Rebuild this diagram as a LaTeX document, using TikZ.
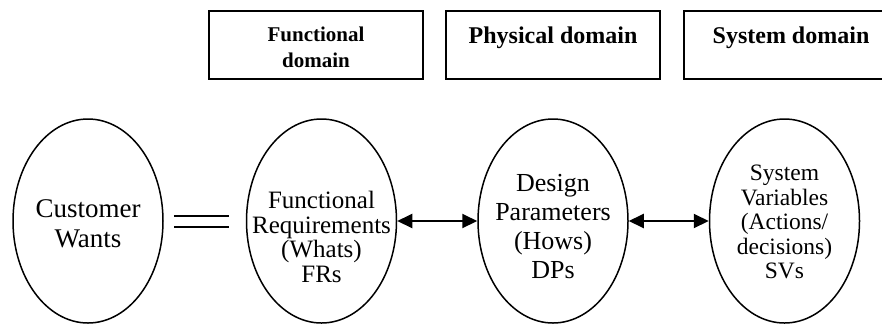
\documentclass[tikz,border=0pt]{standalone}
\usepackage{fontspec}
\setmainfont{Liberation Serif}
\usetikzlibrary{positioning,shapes.geometric,arrows.meta}

\begin{document}
\begin{tikzpicture}[x=1pt,y=1pt,
    domainbox/.style={draw, line width=2pt, minimum width=214pt, minimum height=68pt, inner sep=0pt},
    domaintext/.style={font=\bfseries\fontsize{24}{26}\selectfont, align=center, inner sep=0pt},
    bubble/.style={ellipse, draw, line width=1.5pt, minimum width=150pt, minimum height=204pt, inner sep=0pt},
    bubbletext/.style={align=center, inner sep=0pt, font=\fontsize{25}{24.7}\selectfont},
    biarrow/.style={line width=2pt, {Triangle[length=15pt,width=14pt]}-{Triangle[length=15pt,width=14pt]}},
    equals/.style={double, line width=2pt, double distance=9pt, shorten <=10pt, shorten >=17pt}]
    \useasboundingbox (0,0) rectangle (882,-325);
    \clip (0,0) rectangle (882,-325);
    % domains
    \node[domainbox]                    (fdom) at (316,-45) {};
    \node[domainbox, right=21pt of fdom] (pdom) {};
    \node[domainbox, right=22pt of pdom] (sdom) {};
    \node[domaintext, font=\bfseries\fontsize{21}{26}\selectfont, below=16.5pt of fdom.north] (ftext) {Functional\\domain};
    \node[domaintext, below=16.5pt of pdom.north] (ptext) {Physical domain};
    \node[domaintext, below=16.5pt of sdom.north] (stext) {System domain};
    % mappings
    \node[bubble]                  (cw) at (88,-221) {};
    \node[bubble, right=82pt of cw] (fr) {};
    \node[bubble, right=80pt of fr] (dp) {};
    \node[bubble, right=80pt of dp] (sv) {};
    \node[bubbletext, font=\fontsize{27}{30}\selectfont, yshift=-3pt] (cwtext) at (cw) {Customer\\Wants};
    \node[bubbletext, yshift=-16pt] (frtext) at (fr) {Functional\\Requirements\\(Whats)\\FRs};
    \node[bubbletext, font=\fontsize{26}{29}\selectfont, yshift=-6pt] (dptext) at (dp) {Design\\Parameters\\(Hows)\\DPs};
    \node[bubbletext, font=\fontsize{23.5}{24.5}\selectfont, yshift=-1pt] (svtext) at (sv) {System\\Variables\\(Actions/\\decisions)\\SVs};
    \draw[equals]  (cw) -- (fr);
    \draw[biarrow] (fr) -- (dp);
    \draw[biarrow] (dp) -- (sv);
\end{tikzpicture}
\end{document}
